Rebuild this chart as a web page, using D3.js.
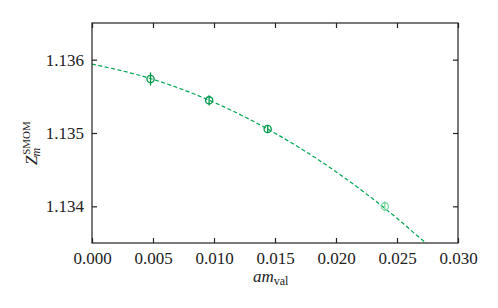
<!DOCTYPE html>
<html><head><meta charset="utf-8">
<script src="https://cdn.jsdelivr.net/npm/d3@7"></script>
<style>body{margin:0;background:#fff}</style>
</head><body><svg id="c" width="498" height="308"></svg>
<script>
const amVal = [0.0048, 0.0096, 0.0144, 0.024];
const zm = [1.135737, 1.135445, 1.135054, 1.134000];
const zmErr = [0.00009, 0.00007, 0.00005, 0.00007];
const highlight = [true, true, true, false];
const fitX = [0, 0.005, 0.010, 0.015, 0.020, 0.025, 0.0274, 0.028];
const fitY = [1.13594, 1.135732, 1.135418, 1.134998, 1.134472, 1.133838, 1.1335, 1.13343];
const xTicks = [0, 0.005, 0.010, 0.015, 0.020, 0.025, 0.030];
const yTicks = [1.134, 1.135, 1.136];

const FONT = "'Liberation Serif', 'DejaVu Serif', 'Times New Roman', serif";
const m = {l:92, r:458, t:23, b:243};
const svg = d3.select("#c");
const x = d3.scaleLinear().domain([0,0.030]).range([m.l,m.r]);
const y = d3.scaleLinear().domain([1.1335,1.1365]).range([m.b,m.t]);

svg.append("clipPath").attr("id","clip").append("rect")
  .attr("x",m.l).attr("y",m.t).attr("width",m.r-m.l).attr("height",m.b-m.t);

// fit curve
svg.append("path").datum(fitX.map((d,i)=>[d,fitY[i]]))
  .attr("clip-path","url(#clip)")
  .attr("d", d3.line().x(d=>x(d[0])).y(d=>y(d[1])).curve(d3.curveMonotoneX))
  .attr("fill","none").attr("stroke","#00a550").attr("stroke-width",1.2).attr("stroke-dasharray","4,2.5");

// points
const g = svg.append("g");
amVal.forEach((v,i)=>{
  const col = highlight[i] ? "#00994a" : "#7fd6a0";
  const gg = g.append("g");
  gg.append("line").attr("x1",x(v)).attr("x2",x(v))
    .attr("y1",y(zm[i]-zmErr[i])).attr("y2",y(zm[i]+zmErr[i]))
    .attr("stroke",col).attr("stroke-width",1.3);
  gg.append("circle").attr("cx",x(v)).attr("cy",y(zm[i])).attr("r",3.6)
    .attr("fill","none").attr("stroke",col).attr("stroke-width",1.3);
});

// axes
const tl = 5;
const axB = svg.append("g").attr("transform",`translate(0,${m.b})`)
  .call(d3.axisBottom(x).tickValues(xTicks).tickFormat(d3.format(".3f")).tickSizeInner(-tl).tickSizeOuter(0).tickPadding(9));
const axT = svg.append("g").attr("transform",`translate(0,${m.t})`)
  .call(d3.axisTop(x).tickValues(xTicks).tickFormat("").tickSizeInner(-tl).tickSizeOuter(0));
const axL = svg.append("g").attr("transform",`translate(${m.l},0)`)
  .call(d3.axisLeft(y).tickValues(yTicks).tickFormat(d3.format(".3f")).tickSizeInner(-tl).tickSizeOuter(0).tickPadding(8));
const axR = svg.append("g").attr("transform",`translate(${m.r},0)`)
  .call(d3.axisRight(y).tickValues(yTicks).tickFormat("").tickSizeInner(-tl).tickSizeOuter(0));
[axB,axT,axL,axR].forEach(a=>{
  a.attr("font-family", null).attr("font-size", null);
  a.select(".domain").remove();
  a.selectAll("line").attr("stroke","#222").attr("stroke-width",1.2);
  a.selectAll("text").style("font-family",FONT).style("font-size","17px").attr("fill","#222");
});
svg.append("rect").attr("x",m.l).attr("y",m.t).attr("width",m.r-m.l).attr("height",m.b-m.t)
  .attr("fill","none").attr("stroke","#222").attr("stroke-width",1.2);

// x label
const xl = svg.append("text").attr("x",253).attr("y",282)
  .style("font-family",FONT).style("font-size","17px").attr("fill","#222");
xl.append("tspan").style("font-style","italic").text("am");
xl.append("tspan").attr("dy",3).style("font-size","12px").text("val");

// y label
const yl = svg.append("text").attr("transform","translate(37,165) rotate(-90)")
  .style("font-family",FONT).style("font-size","17px").attr("fill","#222");
yl.append("tspan").style("font-style","italic").text("Z");
yl.append("tspan").attr("dy",3).attr("dx",-1).style("font-size","12px").style("font-style","italic").text("m");
yl.append("tspan").attr("dy",-10).attr("dx",-7).style("font-size","11px").text("SMOM");
</script></body></html>
